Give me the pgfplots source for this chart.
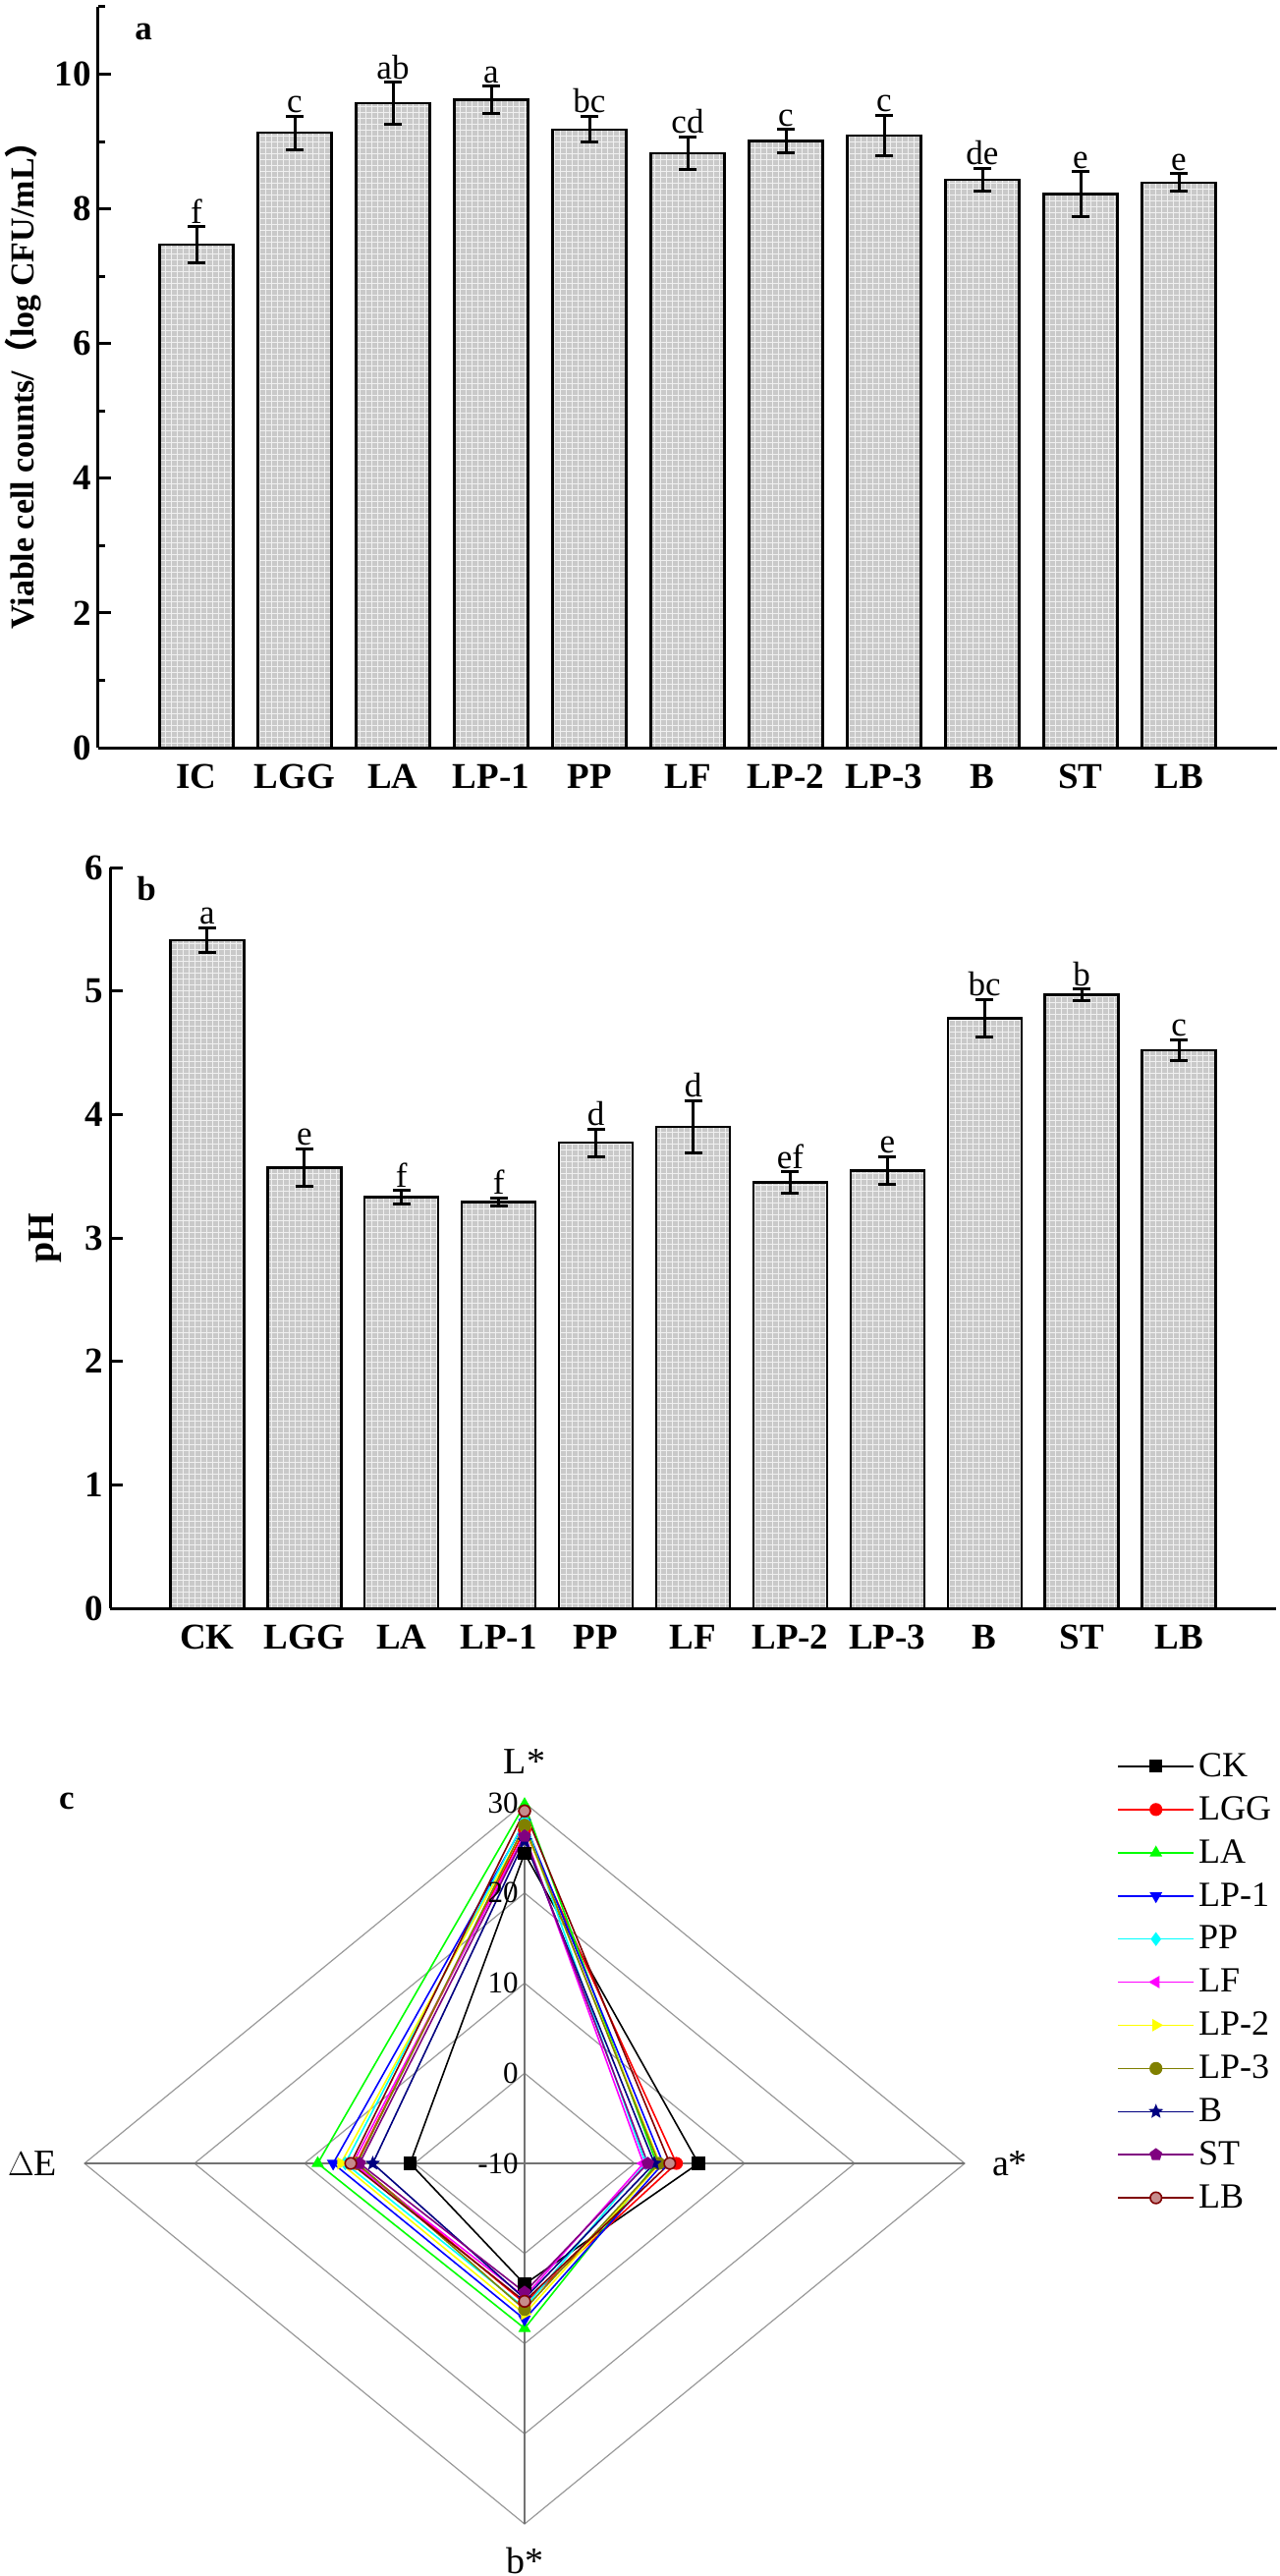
\documentclass[border=0pt]{standalone}
\usepackage{pgfplots}
\usepackage{pgfplotstable}
\pgfplotsset{compat=1.18}
\usepackage{fontspec}
\setmainfont{Liberation Serif}
\newfontfamily\cjk{Noto Sans CJK SC}
\usetikzlibrary{plotmarks,patterns}

\pgfdeclareplotmark{fstar}{%
 \pgfpathmoveto{\pgfqpointpolar{90}{\pgfplotmarksize}}%
 \pgfpathlineto{\pgfqpointpolar{126}{0.45\pgfplotmarksize}}%
 \pgfpathlineto{\pgfqpointpolar{162}{\pgfplotmarksize}}%
 \pgfpathlineto{\pgfqpointpolar{198}{0.45\pgfplotmarksize}}%
 \pgfpathlineto{\pgfqpointpolar{234}{\pgfplotmarksize}}%
 \pgfpathlineto{\pgfqpointpolar{270}{0.45\pgfplotmarksize}}%
 \pgfpathlineto{\pgfqpointpolar{306}{\pgfplotmarksize}}%
 \pgfpathlineto{\pgfqpointpolar{342}{0.45\pgfplotmarksize}}%
 \pgfpathlineto{\pgfqpointpolar{18}{\pgfplotmarksize}}%
 \pgfpathlineto{\pgfqpointpolar{54}{0.45\pgfplotmarksize}}%
 \pgfpathclose\pgfusepathqfillstroke}

\definecolor{cLA}{HTML}{00FF00}
\definecolor{cPP}{HTML}{00FFFF}
\definecolor{cLF}{HTML}{FF00FF}
\definecolor{cLPtwo}{HTML}{FFFF00}
\definecolor{cLPthree}{HTML}{808000}
\definecolor{cB}{HTML}{000080}
\definecolor{cST}{HTML}{800080}
\definecolor{cLB}{HTML}{800000}
\definecolor{barfill}{HTML}{C9C9C9}

\newcommand\tickfont{\fontsize{18.5}{20}\selectfont\bfseries}
\newcommand\letfont{\fontsize{17.5}{18}\selectfont}

% viable cell counts (log CFU/mL)
\pgfplotstableread{
x y err lab
1 7.47 0.27 f
2 9.13 0.25 c
3 9.57 0.31 ab
4 9.62 0.20 a
5 9.18 0.19 bc
6 8.83 0.24 cd
7 9.01 0.17 c
8 9.09 0.30 c
9 8.43 0.17 de
10 8.22 0.33 e
11 8.39 0.13 e
}\dataA
% pH
\pgfplotstableread{
x y err lab
1 5.41 0.10 a
2 3.57 0.15 e
3 3.33 0.055 f
4 3.29 0.035 f
5 3.77 0.11 d
6 3.90 0.21 d
7 3.45 0.085 ef
8 3.545 0.11 e
9 4.78 0.15 bc
10 4.97 0.045 b
11 4.52 0.085 c
}\dataB

\pgfplotsset{
 baraxis/.style={scale only axis, axis lines*=left, xmin=0, xmax=12,
  xtick={1,...,11}, major x tick style={draw=none}, tick align=inside,
  axis line style={line width=1.5pt, black},
  major tick length=6.5pt, minor tick length=3.5pt,
  every tick/.style={line width=1.5pt, black},
  ticklabel style={font=\tickfont},
  xticklabel style={yshift=-5pt},
  /pgf/number format/assume math mode=true, clip=false},
 barplot/.style={ybar, bar width=37.5pt, fill=barfill, draw=black, line width=1.2pt,
  postaction={pattern=grid, pattern color=white!94!black},
  error bars/.cd, y dir=both, y explicit,
  error bar style={line width=1.5pt, black},
  error mark options={rotate=90, mark size=4.5pt, line width=1.5pt, black}},
 letplot/.style={draw=none, mark=none, nodes near coords, point meta=explicit symbolic,
  every node near coord/.style={anchor=south, font=\letfont, inner sep=1.5pt, black}},
 rad/.style={line width=0.8pt, mark size=2.9pt},
}

\begin{document}
\begin{tikzpicture}
\path[use as bounding box] (0pt,0pt) rectangle (651pt,-1311pt);

% ---------- panel a ----------
\begin{axis}[baraxis, at={(50pt,-380.5pt)}, anchor=south west,
  width=600pt, height=377pt, ymin=0, ymax=11,
  ytick={0,2,...,10}, minor ytick={1,3,...,11},
  xticklabels={IC,LGG,LA,LP-1,PP,LF,LP-2,LP-3,B,ST,LB},
  ylabel={Viable cell counts/{\cjk （}log CFU/mL{\cjk ）}},
  ylabel style={at={(axis description cs:-0.064,0.5)}, anchor=center,
    font=\fontsize{17}{18}\selectfont\bfseries}]
\addplot[barplot] table[x=x, y=y, y error=err] {\dataA};
\addplot[letplot] table[x=x, y expr=\thisrow{y}+\thisrow{err}, meta=lab] {\dataA};
\end{axis}
\node[font=\fontsize{17.5}{18}\selectfont\bfseries] at (73pt,-16pt) {a};

% ---------- panel b ----------
\begin{axis}[baraxis, at={(56pt,-818.5pt)}, anchor=south west,
  width=593.5pt, height=377pt, ymin=0, ymax=6,
  ytick={0,...,6},
  xticklabels={CK,LGG,LA,LP-1,PP,LF,LP-2,LP-3,B,ST,LB},
  ylabel={pH},
  ylabel style={at={(axis description cs:-0.0556,0.5)}, anchor=center,
    font=\fontsize{19}{20}\selectfont\bfseries}]
\addplot[barplot] table[x=x, y=y, y error=err] {\dataB};
\addplot[letplot] table[x=x, y expr=\thisrow{y}+\thisrow{err}, meta=lab] {\dataB};
\end{axis}
\node[font=\fontsize{17.5}{18}\selectfont\bfseries] at (74.5pt,-452.5pt) {b};

% ---------- panel c (radar; radial coordinate = value + 10) ----------
\begin{axis}[at={(43pt,-1284.5pt)}, anchor=south west, scale only axis,
  width=448pt, height=367pt, xmin=-40, xmax=40, ymin=-40, ymax=40,
  axis lines=none, clip=false,
  legend style={draw=none, fill=none, at={(1.173,1.075)}, anchor=north west,
    font=\fontsize{18}{18}\selectfont, row sep=4.6pt, inner sep=0pt},
  legend cell align=left,
  legend image code/.code={\draw[mark repeat=2,mark phase=2,#1] plot coordinates {(0pt,0pt)(19.25pt,0pt)(38.5pt,0pt)};}]
% grid rings (values 0,10,20,30)
\addplot[black!40, line width=0.6pt, forget plot] coordinates {(0,10)(10,0)(0,-10)(-10,0)(0,10)};
\addplot[black!40, line width=0.6pt, forget plot] coordinates {(0,20)(20,0)(0,-20)(-20,0)(0,20)};
\addplot[black!40, line width=0.6pt, forget plot] coordinates {(0,30)(30,0)(0,-30)(-30,0)(0,30)};
\addplot[black!40, line width=0.6pt, forget plot] coordinates {(0,40)(40,0)(0,-40)(-40,0)(0,40)};
\addplot[black!55, line width=1.1pt, forget plot] coordinates {(-40,0)(40,0)};
\addplot[black!55, line width=1.1pt, forget plot] coordinates {(0,-40)(0,40)};
% series: (0,L*+10) (a*+10,0) (0,-(b*+10)) (-(dE+10),0)
\addplot[rad, black, mark=square*] coordinates {(0,34.4)(15.8,0)(0,-13.4)(-10.4,0)(0,34.4)};
\addplot[rad, red, mark=*] coordinates {(0,37.0)(13.8,0)(0,-15.5)(-15.3,0)(0,37.0)};
\addplot[rad, cLA, mark=triangle*] coordinates {(0,39.8)(12.0,0)(0,-18.3)(-18.8,0)(0,39.8)};
\addplot[rad, blue, mark=triangle*, mark options={rotate=180}] coordinates {(0,37.8)(12.6,0)(0,-17.3)(-17.4,0)(0,37.8)};
\addplot[rad, cPP, mark=diamond*] coordinates {(0,38.0)(11.0,0)(0,-16.0)(-16.3,0)(0,38.0)};
\addplot[rad, cLF, mark=triangle*, mark options={rotate=90}] coordinates {(0,36.5)(10.8,0)(0,-14.8)(-15.6,0)(0,36.5)};
\addplot[rad, cLPtwo, mark=triangle*, mark options={rotate=-90}] coordinates {(0,37.3)(12.3,0)(0,-16.7)(-16.7,0)(0,37.3)};
\addplot[rad, cLPthree, mark=*] coordinates {(0,37.5)(12.2,0)(0,-16.2)(-15.2,0)(0,37.5)};
\addplot[rad, cB, mark=fstar] coordinates {(0,35.8)(11.8,0)(0,-15.0)(-13.8,0)(0,35.8)};
\addplot[rad, cST, mark=pentagon*] coordinates {(0,36.3)(11.2,0)(0,-14.3)(-15.0,0)(0,36.3)};
\addplot[rad, cLB, mark=*, mark options={fill=cLB!45!white}] coordinates {(0,39.1)(13.2,0)(0,-15.3)(-15.8,0)(0,39.1)};
\legend{CK,LGG,LA,LP-1,PP,LF,LP-2,LP-3,B,ST,LB}
% radial tick labels
\begin{scope}[every node/.style={anchor=east, inner sep=3pt, font=\fontsize{15.5}{16}\selectfont}]
\node at (axis cs:0,0) {-10};
\node at (axis cs:0,10) {0};
\node at (axis cs:0,20) {10};
\node at (axis cs:0,30) {20};
\node at (axis cs:0,40) {30};
\end{scope}
\begin{scope}[every node/.style={font=\fontsize{19}{20}\selectfont}]
\node[yshift=21pt] at (axis cs:0,40) {L*};
\node[xshift=23pt] at (axis cs:40,0) {a*};
\node[yshift=-18.5pt] at (axis cs:0,-40) {b*};
\node[xshift=-26.5pt] at (axis cs:-40,0) {$\Delta$E};
\end{scope}
\end{axis}
\node[font=\fontsize{17.5}{18}\selectfont\bfseries] at (34pt,-916.5pt) {c};
\end{tikzpicture}
\end{document}
